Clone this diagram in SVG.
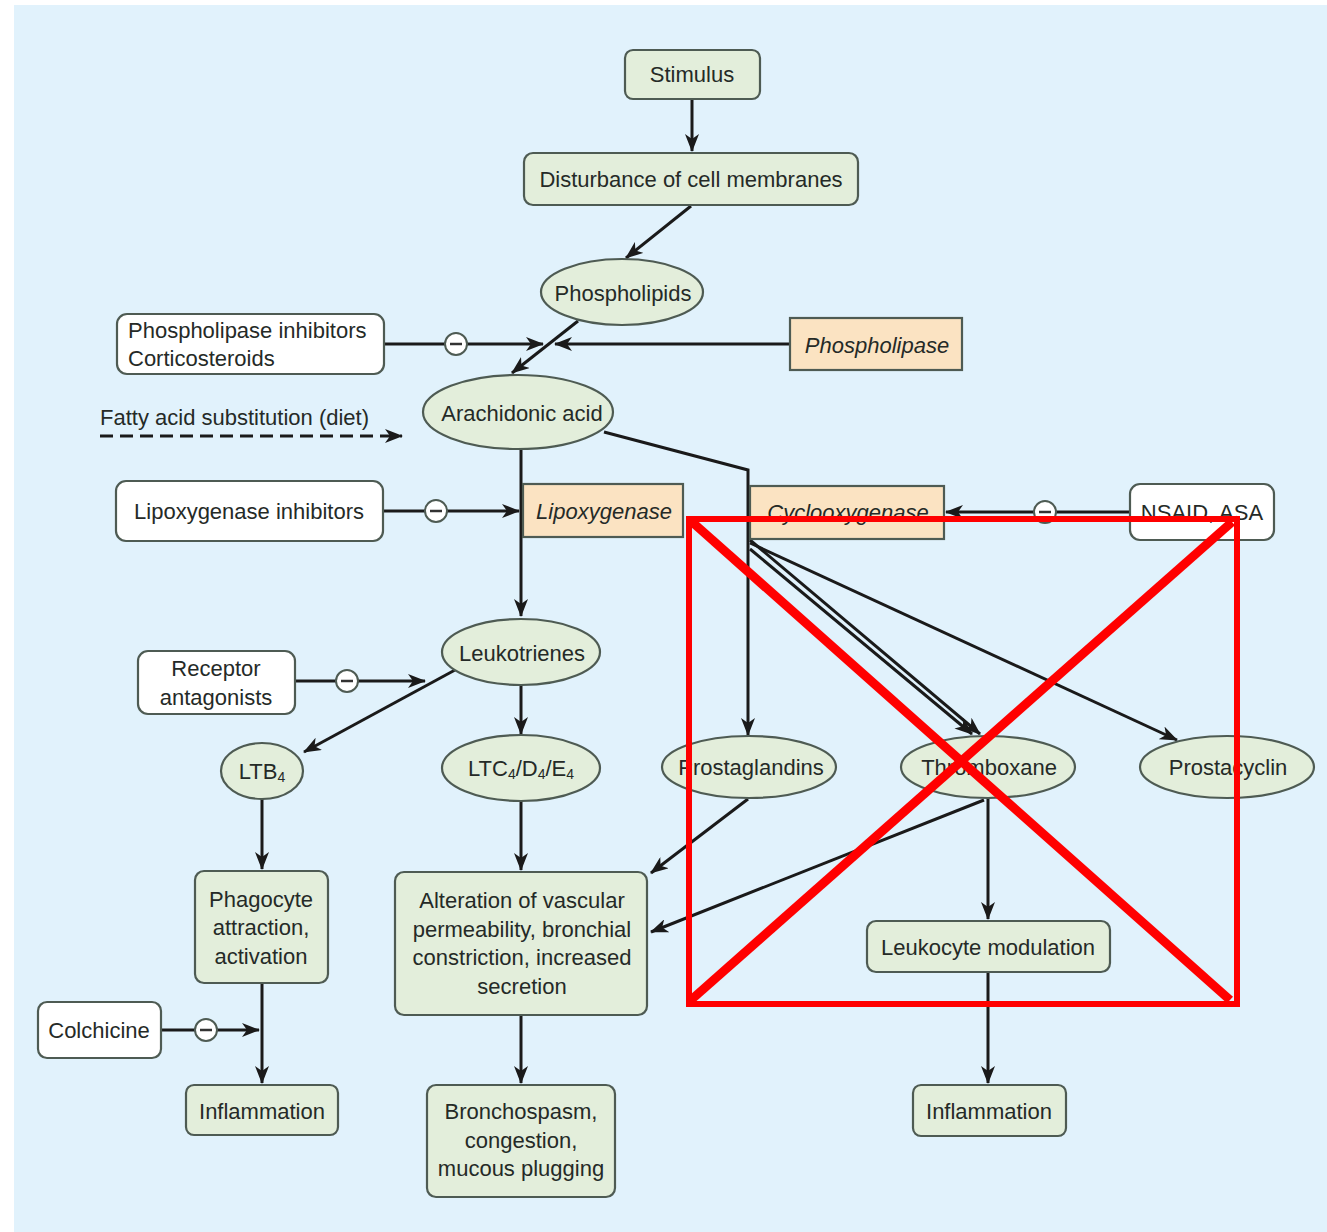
<svg xmlns="http://www.w3.org/2000/svg" width="1327" height="1232" viewBox="0 0 1327 1232">
<defs>
<marker id="ah" viewBox="0 0 18 14" refX="17" refY="7" markerWidth="18" markerHeight="14" markerUnits="userSpaceOnUse" orient="auto">
<path d="M0,0 L18,7 L0,14 L5,7 Z" fill="#1a1a1a"/>
</marker>
<style>
.n{fill:#e3eedb;stroke:#4e5b53;stroke-width:2.2}
.w{fill:#ffffff;stroke:#4e5b53;stroke-width:2.2}
.e{fill:#fbe3c2;stroke:#4e5b53;stroke-width:2.2}
text{font-family:"Liberation Sans",Arial,sans-serif;font-size:22px;fill:#252a27;text-anchor:middle;dominant-baseline:central}
.l{text-anchor:start}
.i{font-style:italic}
.c line,.c path,.c polyline{stroke:#1a1a1a;stroke-width:3;fill:none}
.a{marker-end:url(#ah)}
.m circle{fill:#ffffff;stroke:#4e5b53;stroke-width:2}
.m line{stroke:#333;stroke-width:2.5}
.x{stroke:#ff0000;fill:none}
</style>
</defs>
<rect x="0" y="0" width="1327" height="1232" fill="#ffffff"/>
<rect x="14" y="5" width="1313" height="1227" fill="#e1f2fc"/>

<g class="c" id="connectors">
<line class="a" x1="692" y1="99" x2="692" y2="151"/>
<line class="a" x1="691" y1="206" x2="626" y2="258"/>
<line class="a" x1="578" y1="321" x2="512" y2="373"/>
<line class="a" x1="384" y1="344" x2="543" y2="344"/>
<line class="a" x1="790" y1="344" x2="555" y2="344"/>
<line class="a" x1="100" y1="436" x2="402" y2="436" stroke-dasharray="13,7"/>
<line class="a" x1="521" y1="449" x2="521" y2="616"/>
<line class="a" x1="383" y1="511" x2="519" y2="511"/>
<polyline class="a" points="604,432 748,470 748,735"/>
<line class="a" x1="1130" y1="512" x2="946" y2="512"/>
<line class="a" x1="750" y1="540" x2="980" y2="734"/>
<line class="a" x1="750" y1="549" x2="972" y2="734"/>
<line class="a" x1="750" y1="543" x2="1177" y2="740"/>
<line class="a" x1="295" y1="681" x2="425" y2="681"/>
<line class="a" x1="455" y1="670" x2="304" y2="752"/>
<line class="a" x1="521" y1="685" x2="521" y2="734"/>
<line class="a" x1="262" y1="798" x2="262" y2="869"/>
<line class="a" x1="262" y1="983" x2="262" y2="1083"/>
<line class="a" x1="161" y1="1030" x2="259" y2="1030"/>
<line class="a" x1="521" y1="800" x2="521" y2="870"/>
<line class="a" x1="521" y1="1015" x2="521" y2="1083"/>
<line class="a" x1="748" y1="799" x2="651" y2="873"/>
<line class="a" x1="984" y1="800" x2="651" y2="932"/>
<line class="a" x1="988" y1="798" x2="988" y2="919"/>
<line class="a" x1="988" y1="972" x2="988" y2="1083"/>
</g>

<g class="m" id="inhibit-marks">
<circle cx="456" cy="344" r="11"/><line x1="450" y1="344" x2="462" y2="344"/>
<circle cx="436" cy="511" r="11"/><line x1="430" y1="511" x2="442" y2="511"/>
<circle cx="1045" cy="512" r="11"/><line x1="1039" y1="512" x2="1051" y2="512"/>
<circle cx="347" cy="681" r="11"/><line x1="341" y1="681" x2="353" y2="681"/>
<circle cx="206" cy="1030" r="11"/><line x1="200" y1="1030" x2="212" y2="1030"/>
</g>

<g id="stimulus"><rect class="n" x="625" y="50" width="135" height="49" rx="8"/><text x="692" y="74">Stimulus</text></g>
<g id="disturbance"><rect class="n" x="524" y="153" width="334" height="52" rx="9"/><text x="691" y="179">Disturbance of cell membranes</text></g>
<g id="phospholipids"><ellipse class="n" cx="622" cy="292" rx="81" ry="33"/><text x="623" y="293">Phospholipids</text></g>
<g id="pl-inhibitors"><rect class="w" x="117" y="314" width="267" height="60" rx="10"/><text class="l" x="128" y="330">Phospholipase inhibitors</text><text class="l" x="128" y="358">Corticosteroids</text></g>
<g id="phospholipase"><rect class="e" x="790" y="318" width="172" height="52"/><text class="i" x="877" y="345">Phospholipase</text></g>
<g id="arachidonic"><ellipse class="n" cx="518" cy="412" rx="95" ry="37"/><text x="522" y="413">Arachidonic acid</text></g>
<g id="fatty-acid"><text class="l" x="100" y="417">Fatty acid substitution (diet)</text></g>
<g id="lox-inhibitors"><rect class="w" x="116" y="481" width="267" height="60" rx="10"/><text x="249" y="511">Lipoxygenase inhibitors</text></g>
<g id="lipoxygenase"><rect class="e" x="523" y="484" width="160" height="53"/><text class="i" x="604" y="511">Lipoxygenase</text></g>
<g id="cyclooxygenase"><rect class="e" x="750" y="486" width="194" height="53"/><text class="i" x="848" y="512">Cyclooxygenase</text></g>
<g id="nsaid"><rect class="w" x="1130" y="484" width="144" height="56" rx="10"/><text x="1202" y="512">NSAID, ASA</text></g>
<g id="leukotrienes"><ellipse class="n" cx="521" cy="652" rx="79" ry="33"/><text x="522" y="653">Leukotrienes</text></g>
<g id="receptor"><rect class="w" x="138" y="651" width="157" height="63" rx="10"/><text x="216" y="668">Receptor</text><text x="216" y="697">antagonists</text></g>
<g id="ltb4"><ellipse class="n" cx="262" cy="771" rx="41" ry="28"/><text x="262" y="771">LTB<tspan font-size="14" dy="6">4</tspan></text></g>
<g id="ltc4"><ellipse class="n" cx="521" cy="768" rx="79" ry="33"/><text x="521" y="768">LTC<tspan font-size="14" dy="6">4</tspan><tspan dy="-6">/D</tspan><tspan font-size="14" dy="6">4</tspan><tspan dy="-6">/E</tspan><tspan font-size="14" dy="6">4</tspan></text></g>
<g id="prostaglandins"><ellipse class="n" cx="749" cy="767" rx="87" ry="31"/><text x="751" y="767">Prostaglandins</text></g>
<g id="thromboxane"><ellipse class="n" cx="988" cy="767" rx="87" ry="31"/><text x="989" y="767">Thromboxane</text></g>
<g id="prostacyclin"><ellipse class="n" cx="1227" cy="767" rx="87" ry="31"/><text x="1228" y="767">Prostacyclin</text></g>
<g id="phagocyte"><rect class="n" x="195" y="871" width="133" height="112" rx="9"/><text x="261" y="899">Phagocyte</text><text x="261" y="927">attraction,</text><text x="261" y="956">activation</text></g>
<g id="colchicine"><rect class="w" x="38" y="1002" width="123" height="56" rx="9"/><text x="99" y="1030">Colchicine</text></g>
<g id="inflammation-left"><rect class="n" x="186" y="1085" width="152" height="50" rx="8"/><text x="262" y="1111">Inflammation</text></g>
<g id="alteration"><rect class="n" x="395" y="872" width="252" height="143" rx="9"/><text x="522" y="900">Alteration of vascular</text><text x="522" y="929">permeability, bronchial</text><text x="522" y="957">constriction, increased</text><text x="522" y="986">secretion</text></g>
<g id="bronchospasm"><rect class="n" x="427" y="1085" width="188" height="112" rx="9"/><text x="521" y="1111">Bronchospasm,</text><text x="521" y="1140">congestion,</text><text x="521" y="1168">mucous plugging</text></g>
<g id="leukocyte"><rect class="n" x="867" y="921" width="243" height="51" rx="9"/><text x="988" y="947">Leukocyte modulation</text></g>
<g id="inflammation-right"><rect class="n" x="913" y="1085" width="153" height="51" rx="8"/><text x="989" y="1111">Inflammation</text></g>

<g id="red-cross">
<rect class="x" x="689" y="519" width="548" height="485" stroke-width="6"/>
<line class="x" x1="691" y1="521" x2="1230" y2="1000" stroke-width="9"/>
<line class="x" x1="1232" y1="522" x2="691" y2="1000" stroke-width="9"/>
</g>
</svg>
